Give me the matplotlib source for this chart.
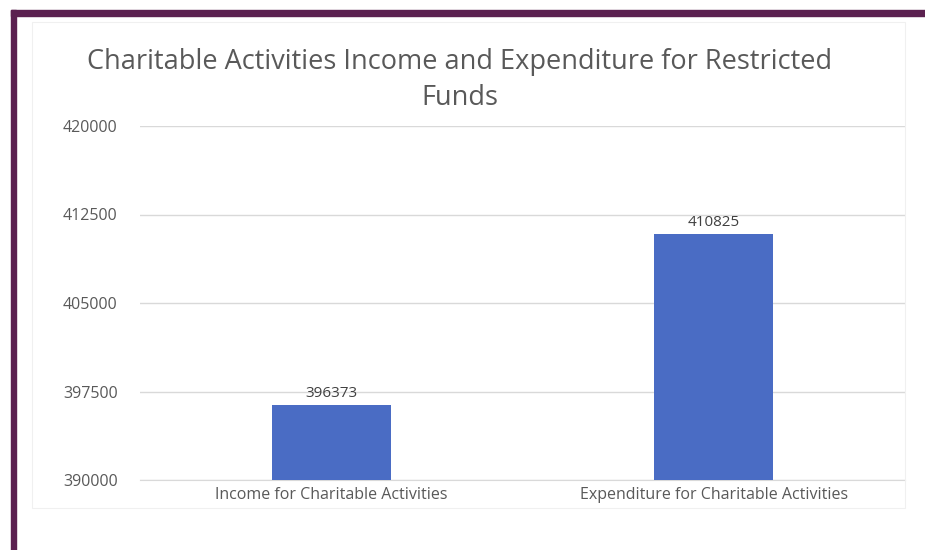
import matplotlib
matplotlib.use("Agg")
import matplotlib.pyplot as plt
from matplotlib.patches import Rectangle

# data
categories = ["Income for Charitable Activities", "Expenditure for Charitable Activities"]
values = [396373, 410825]
y_ticks = [390000, 397500, 405000, 412500, 420000]
title = "Charitable Activities Income and Expenditure for Restricted\nFunds"

plt.rcParams['font.family'] = ['Open Sans', 'DejaVu Sans']
text_color = '#595959'
bar_color = '#4a6cc4'
grid_color = '#d9d9d9'

fig = plt.figure(figsize=(9.25, 5.5), dpi=100)
fig.patch.set_facecolor('white')

# border in dark purple (top and left)
fig.patches.append(Rectangle((11 / 925, 1 - 16 / 550), 1 - 11 / 925, 6 / 550,
                             transform=fig.transFigure, color='#5b2150', zorder=5))
fig.patches.append(Rectangle((11 / 925, 0), 5 / 925, 1 - 10 / 550,
                             transform=fig.transFigure, color='#5b2150', zorder=5))
# faint chart frame
fig.patches.append(Rectangle((32 / 925, 1 - 508 / 550), (905 - 32) / 925, (508 - 22) / 550,
                             transform=fig.transFigure, fill=False, edgecolor='#f0f0f0',
                             linewidth=0.8, zorder=1))

ax = fig.add_axes([140 / 925, 1 - 480 / 550, (905 - 140) / 925, (480 - 126) / 550])
x = range(len(categories))
bars = ax.bar(x, values, width=0.31, color=bar_color, zorder=3)

ax.set_ylim(y_ticks[0], y_ticks[-1])
ax.set_xlim(-0.5, 1.5)
ax.set_yticks(y_ticks)
ax.set_yticklabels([str(t) for t in y_ticks])
ax.set_xticks(list(x))
ax.set_xticklabels(categories)
ax.tick_params(axis='y', length=0, pad=16, labelsize=11.5, labelcolor=text_color)
ax.tick_params(axis='x', length=0, pad=5, labelsize=11.5, labelcolor=text_color)
ax.grid(axis='y', color=grid_color, linewidth=1, zorder=0)
for s in ['top', 'right', 'left']:
    ax.spines[s].set_visible(False)
ax.spines['bottom'].set_color(grid_color)

for b, v in zip(bars, values):
    ax.annotate(str(v), (b.get_x() + b.get_width() / 2, v), xytext=(0, 3),
                textcoords='offset points', ha='center', va='bottom',
                fontsize=11, color='#404040')

fig.text(460 / 925, 1 - 80 / 550, title, ha='center', va='center',
         fontsize=19.5, color=text_color, linespacing=1.4)

fig.savefig("out.png", dpi=100)
